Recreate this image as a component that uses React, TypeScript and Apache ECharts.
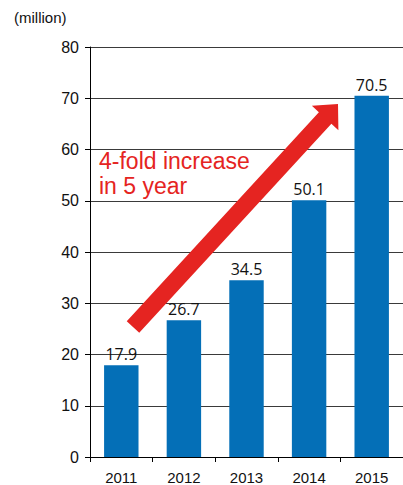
import React, { useEffect, useRef } from "react";
import * as echarts from "echarts";

const years = ["2011", "2012", "2013", "2014", "2015"];
const values = [17.9, 26.7, 34.5, 50.1, 70.5];
const yTicks = { min: 0, max: 80, interval: 10 };
const unitLabel = "(million)";
const noteLines = ["4-fold increase", "in 5 year"];

function arrowPoints(tail: number[], tip: number[], shaftHalf: number, headHalf: number, headLen: number) {
  const dx = tip[0] - tail[0];
  const dy = tip[1] - tail[1];
  const len = Math.sqrt(dx * dx + dy * dy);
  const ux = dx / len, uy = dy / len;
  const nx = -uy, ny = ux;
  const bx = tip[0] - ux * headLen, by = tip[1] - uy * headLen;
  return [
    [tail[0] + nx * shaftHalf, tail[1] + ny * shaftHalf],
    [bx + nx * shaftHalf, by + ny * shaftHalf],
    [bx + nx * headHalf, by + ny * headHalf],
    tip,
    [bx - nx * headHalf, by - ny * headHalf],
    [bx - nx * shaftHalf, by - ny * shaftHalf],
    [tail[0] - nx * shaftHalf, tail[1] - ny * shaftHalf],
  ];
}

export default function App() {
  const ref = useRef<HTMLDivElement>(null);
  useEffect(() => {
    document.body.style.margin = "0";
    const chart = echarts.init(ref.current!, undefined, { renderer: "svg" });
    const font = "'Liberation Sans', Arial, Helvetica, sans-serif";
    chart.setOption({
      animation: false,
      grid: { left: 90, right: -3, top: 47, bottom: 25, containLabel: false },
      xAxis: {
        type: "category",
        data: years,
        axisLine: { lineStyle: { color: "#000", width: 1 } },
        axisTick: { show: true, length: 5, lineStyle: { color: "#000" } },
        axisLabel: { color: "#111", fontSize: 15, fontFamily: font, margin: 13 },
      },
      yAxis: {
        type: "value",
        min: yTicks.min,
        max: yTicks.max,
        interval: yTicks.interval,
        axisLine: { show: true, lineStyle: { color: "#000", width: 1 } },
        axisTick: { show: true, length: 5, lineStyle: { color: "#000" } },
        axisLabel: { color: "#111", fontSize: 16, fontFamily: font, margin: 11 },
        splitLine: { show: true, lineStyle: { color: "#3a3a3a", width: 1 } },
      },
      series: [
        {
          type: "bar",
          data: values,
          barWidth: "55%",
          itemStyle: { color: "#046fb7" },
          label: {
            show: true,
            position: "top",
            distance: 3,
            color: "#111",
            fontSize: 16,
            fontFamily: "'Open Sans', 'DejaVu Sans', sans-serif",
          },
        },
      ],
      graphic: [
        {
          type: "text",
          left: 14,
          top: 10,
          style: { text: unitLabel, fontSize: 15, fontFamily: font, fill: "#111" },
        },
        {
          type: "polygon",
          shape: { points: arrowPoints([133, 327], [338, 104], 8.5, 18, 19) },
          style: { fill: "#e52421" },
          z: 100,
        },
        {
          type: "text",
          left: 99,
          top: 148,
          style: {
            text: noteLines.join("\n"),
            fontSize: 23,
            lineHeight: 25,
            fontFamily: font,
            fill: "#e52421",
          },
          z: 101,
        },
      ],
    });
    return () => chart.dispose();
  }, []);
  return <div ref={ref} style={{ width: 403, height: 485 }} />;
}
